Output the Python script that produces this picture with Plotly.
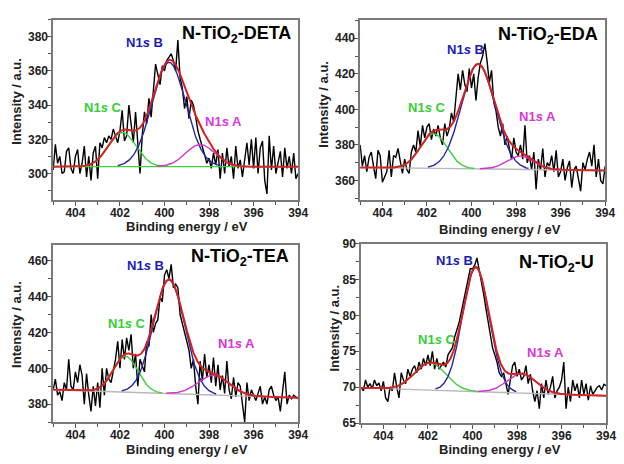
import numpy as np
import plotly.graph_objects as go

W, H = 624, 464

# ---------------- data ----------------
PANEL_NAMES = ["DETA", "EDA", "TEA", "U"]

DETA_Y = [302, 317, 306, 310, 300, 301, 313, 315, 303, 300, 310, 314, 300, 306, 316, 298, 310, 296, 312, 316,
          297, 318, 315, 321, 318, 322, 320, 326, 322, 318, 325, 337, 319, 322, 340, 328, 318, 336, 316, 300,
          322, 336, 329, 344, 333, 350, 364, 358, 352, 363, 360, 366, 368, 370, 366, 360, 378, 356, 350, 338,
          345, 332, 343, 340, 333, 325, 320, 316, 311, 306, 309, 303, 312, 305, 314, 297, 312, 300, 315, 304,
          310, 297, 316, 303, 308, 298, 310, 318, 305, 320, 303, 321, 300, 315, 319, 296, 288, 322, 302, 316,
          300, 307, 313, 298, 315, 303, 310, 300, 312, 297, 300]

EDA_Y = [380, 368, 374, 365, 373, 376, 368, 361, 377, 374, 359, 362, 365, 377, 362, 374, 373, 378, 370, 364,
         372, 366, 364, 376, 380, 376, 388, 379, 391, 384, 390, 392, 383, 389, 385, 391, 384, 380, 392, 385,
         389, 398, 393, 406, 420, 411, 422, 414, 410, 423, 412, 420, 405, 418, 426, 430, 437, 427, 415, 422,
         404, 399, 390, 385, 392, 380, 385, 378, 372, 384, 376, 374, 380, 372, 391, 370, 374, 366, 376, 355,
         372, 366, 378, 362, 370, 368, 374, 365, 377, 362, 365, 372, 360, 367, 371, 356, 366, 368, 362, 354,
         370, 366, 372, 376, 368, 380, 362, 372, 360, 358, 368]

TEA_Y = [388, 394, 385, 387, 382, 392, 388, 405, 390, 388, 398, 392, 402, 396, 380, 397, 385, 376, 390, 379,
         392, 378, 400, 385, 400, 394, 392, 398, 405, 415, 400, 416, 405, 417, 410, 419, 400, 408, 390, 405,
         402, 398, 415, 412, 430, 420, 425, 427, 440, 437, 452, 455, 450, 458, 445, 447, 445, 430, 425, 420,
         415, 410, 400, 405, 390, 380, 404, 393, 408, 395, 402, 392, 406, 390, 402, 388, 396, 386, 404, 388,
         383, 395, 384, 392, 390, 380, 370, 392, 382, 388, 385, 382, 386, 390, 380, 384, 380, 388, 390, 385,
         382, 384, 376, 388, 398, 380, 385, 383, 385, 384, 383]

U_Y = [70.0, 69.5, 71.0, 70.0, 70.5, 69.8, 71.0, 70.2, 70.6, 69.5, 70.8, 68.5, 68.0, 70.0, 69.5, 72.0, 70.0, 68.5,
       72.0, 71.0, 70.5, 72.5, 71.5, 72.5, 73.0, 72.0, 73.5, 72.5, 74.0, 73.0, 74.5, 73.0, 75.0, 72.5, 74.0, 72.5,
       73.0, 73.5, 72.8, 74.5, 75.0, 75.5, 77.0, 78.0, 79.0, 80.5, 82.0, 83.5, 85.5, 86.5, 86.5, 87.0, 88.0, 86.5,
       85.0, 83.0, 81.0, 79.0, 77.0, 75.5, 74.5, 73.5, 72.0, 71.5, 72.0, 70.5, 69.0, 71.0, 73.0, 73.5, 71.5, 72.5,
       71.0, 71.5, 73.0, 70.5, 71.8, 69.5, 68.0, 69.5, 67.0, 70.5, 68.5, 71.0, 69.0, 70.0, 71.5, 68.5, 69.5, 70.0,
       71.0, 73.5, 67.0, 70.0, 68.0, 71.0, 69.5, 70.5, 68.5, 71.0, 69.0, 70.5, 68.2, 70.2, 69.0, 69.5, 70.0, 70.2,
       69.6, 70.4, 70.2]

RAW = [DETA_Y, EDA_Y, TEA_Y, U_Y]

# peak fit parameters (order: N1s C, N1s B, N1s A)
PEAK_CENTERS = [[401.9, 399.8, 398.4], [401.7, 399.7, 397.8], [401.75, 399.8, 397.8], [401.9, 399.85, 397.8]]
PEAK_HEIGHTS = [[20.0, 61.0, 13.0], [19.5, 59.0, 7.5], [20.0, 63.5, 11.0], [3.8, 17.3, 2.7]]
PEAK_SIGMAS = [[0.62, 0.76, 0.65], [0.6, 0.75, 0.6], [0.55, 0.7, 0.7], [0.7, 0.6, 0.65]]
BASE_LEFT = [304.0, 367.3, 388.0, 69.9]
BASE_RIGHT = [304.0, 365.6, 383.6, 68.8]

Y_RANGES = [[284.5, 390], [349, 450.5], [370, 469], [65, 90]]
Y_DTICK = [20, 20, 20, 5]

# ---------------- style ----------------
FONT = "Liberation Sans, Arial, sans-serif"
C_GREEN = "#3cd23c"
C_BLUE = "#2424a8"
C_MAG = "#d035d0"
C_RED = "#d42222"
C_BASE = ["#3cd23c", "#b8b8b8", "#b8b8b8", "#b8b8b8"]
LBL_COL = ["#35d035", "#1c1cb8", "#d838d8"]

# plot areas in pixels: (x0, x1, ytop, ybottom)
BOX = [(54, 303, 13, 199), (366, 615, 13, 199), (54, 303, 245, 428), (367, 616, 244, 429)]

def px(x):
    return x / W

def py(y):
    return 1 - y / H

fig = go.Figure()
xf = np.linspace(405, 394, 551)

for i in range(4):
    xa = "x" if i == 0 else f"x{i+1}"
    ya = "y" if i == 0 else f"y{i+1}"
    yv = RAW[i]
    xr = np.linspace(405, 394, len(yv))
    base = BASE_LEFT[i] + (BASE_RIGHT[i] - BASE_LEFT[i]) * (405 - xf) / 11.0
    comps = []
    for c, h, s in zip(PEAK_CENTERS[i], PEAK_HEIGHTS[i], PEAK_SIGMAS[i]):
        comps.append(h * np.exp(-((xf - c) ** 2) / (2 * s * s)))
    env = base + sum(comps)

    fig.add_trace(go.Scatter(x=xr, y=yv, mode="lines", line=dict(color="black", width=1.4),
                             xaxis=xa, yaxis=ya, showlegend=False, hoverinfo="skip"))
    fig.add_trace(go.Scatter(x=xf, y=base, mode="lines", line=dict(color=C_BASE[i], width=1.4),
                             xaxis=xa, yaxis=ya, showlegend=False, hoverinfo="skip"))
    for comp, col, h in zip(comps, [C_GREEN, C_BLUE, C_MAG], PEAK_HEIGHTS[i]):
        yy = np.where(comp > 0.01 * h, base + comp, np.nan)
        fig.add_trace(go.Scatter(x=xf, y=yy, mode="lines", line=dict(color=col, width=1.4),
                                 xaxis=xa, yaxis=ya, showlegend=False, hoverinfo="skip"))
    fig.add_trace(go.Scatter(x=xf, y=env, mode="lines", line=dict(color=C_RED, width=2),
                             xaxis=xa, yaxis=ya, showlegend=False, hoverinfo="skip"))

    x0, x1, yt, yb = BOX[i]
    axcommon = dict(showline=True, linecolor="#7a7a7a", linewidth=1.5, mirror=True,
                    ticks="outside", ticklen=4, tickwidth=1, tickcolor="#555",
                    showgrid=False, zeroline=False, ticklabelstandoff=-3,
                    tickfont=dict(family=FONT, size=12, color="#222", weight="bold"))
    xkey = "xaxis" if i == 0 else f"xaxis{i+1}"
    ykey = "yaxis" if i == 0 else f"yaxis{i+1}"
    fig.update_layout({
        xkey: dict(domain=[px(x0), px(x1)], range=[405, 394], anchor=ya, tick0=394, dtick=2,
                   minor=dict(ticks="outside", ticklen=3, dtick=1, tick0=394, tickcolor="#555", showgrid=False),
                   **axcommon),
        ykey: dict(domain=[py(yb), py(yt)], range=Y_RANGES[i], anchor=xa, dtick=Y_DTICK[i],
                   minor=dict(ticks="outside", ticklen=3, dtick=Y_DTICK[i] / 2, tickcolor="#555", showgrid=False),
                   **axcommon),
    })

annots = []
# panel titles
TITLES = ["N-TiO<sub>2</sub>-DETA", "N-TiO<sub>2</sub>-EDA", "N-TiO<sub>2</sub>-TEA", "N-TiO<sub>2</sub>-U"]
TITLE_POS = [(298, 28), (610, 29), (296, 258), (606, 264)]
for t, (x, y) in zip(TITLES, TITLE_POS):
    annots.append(dict(text=t, x=px(x), y=py(y), xref="paper", yref="paper", xanchor="right", yanchor="middle",
                       showarrow=False, font=dict(family=FONT, size=18, color="black", weight="bold")))

# component labels: (C, B, A) positions (left, center-y)
LBL_POS = [[(83, 104), (126, 37), (206, 118)],
           [(413, 104), (452, 44), (525, 113)],
           [(108, 326), (127, 267), (220, 347)],
           [(423, 343), (441, 261), (534, 356)]]
LBL_TXT = ["N1<i>s</i> C", "N1<i>s</i> B", "N1<i>s</i> A"]
for i in range(4):
    for j in range(3):
        x, y = LBL_POS[i][j]
        annots.append(dict(text=LBL_TXT[j], x=px(x), y=py(y), xref="paper", yref="paper",
                           xanchor="left", yanchor="middle", showarrow=False,
                           font=dict(family=FONT, size=13, color=LBL_COL[j], weight="bold")))

# axis titles
XT_POS = [(190, 226), (508, 229), (190, 456), (508, 456)]
YT_POS = [(16, 97), (329, 100), (16, 327), (339, 331)]
for (x, y) in XT_POS:
    annots.append(dict(text="Binding energy / eV", x=px(x), y=py(y), xref="paper", yref="paper",
                       xanchor="center", yanchor="middle", showarrow=False,
                       font=dict(family=FONT, size=13, color="#222", weight="bold")))
for (x, y) in YT_POS:
    annots.append(dict(text="Intensity / a.u.", x=px(x), y=py(y), xref="paper", yref="paper",
                       xanchor="center", yanchor="middle", showarrow=False, textangle=-90,
                       font=dict(family=FONT, size=13, color="#222", weight="bold")))

fig.update_layout(width=W, height=H, margin=dict(l=0, r=0, t=0, b=0),
                  paper_bgcolor="white", plot_bgcolor="white", annotations=annots,
                  showlegend=False)

fig.write_html("out.html")
